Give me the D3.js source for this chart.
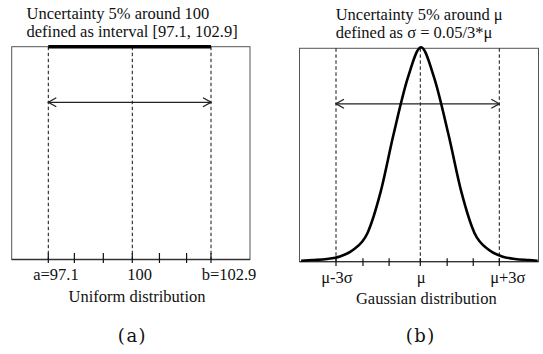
<!DOCTYPE html>
<html><head><meta charset="utf-8">
<script src="https://cdn.jsdelivr.net/npm/d3@7"></script>
<style>
body{margin:0;background:#fff}
text{font-family:"Liberation Serif","Times New Roman",serif;font-size:16.5px;fill:#111}
text.sub{font-family:"DejaVu Serif",serif;font-size:18px;letter-spacing:1.5px}
</style>
</head><body><svg id="c" width="543" height="354"></svg>
<script>
// ---------- data ----------
const uniformBounds = [97.1, 102.9];
const uniformCenter = 100;
const uniformTicks = [97.1, 98, 99, 100, 101, 102, 102.9];
const uniformLabelValues = [97.1, 100, 102.9];
const uniformTickLabels = ["a=97.1", "100", "b=102.9"];
const uniformTitle = ["Uncertainty 5% around 100", "defined as interval [97.1, 102.9]"];
const uniformXTitle = "Uniform distribution";

const gaussBounds = [95, 105];           // mu-3sigma, mu+3sigma
const gaussCenter = 100;
const gaussTicks = [95, 96.6, 98.15, 100, 101.7, 103.35, 105];
const gaussLabelValues = [95, 100, 105];
const gaussTickLabels = ["μ-3σ", "μ", "μ+3σ"];
const gaussTitle = ["Uncertainty 5% around μ", "defined as σ = 0.05/3*μ"];
const gaussXTitle = "Gaussian distribution";
// curve (relative density)
const gaussX = [92.6, 93.3, 94.2, 95, 95.8, 96.7, 97.5, 98.3, 99.2, 100, 100.8, 101.7, 102.5, 103.3, 104.2, 105, 105.8, 106.7, 107.2];
const gaussY = [0.0, 0.003, 0.008, 0.02, 0.05, 0.13, 0.32, 0.59, 0.86, 1, 0.86, 0.59, 0.32, 0.13, 0.05, 0.02, 0.008, 0.003, 0.0];

const subLabels = ["(a)", "(b)"];

// ---------- drawing ----------
const svg = d3.select("#c");
const defs = svg.append("defs");
defs.append("marker").attr("id","arr").attr("viewBox","-10 -6 11 12")
  .attr("refX",0).attr("refY",0).attr("markerWidth",11).attr("markerHeight",12)
  .attr("markerUnits","userSpaceOnUse").attr("orient","auto-start-reverse")
  .append("path").attr("d","M-8,-4.5L0,0L-8,4.5").attr("fill","none")
  .attr("stroke","#222").attr("stroke-width",1.3);

function panel(o){
  const g = svg.append("g");
  const x = d3.scaleLinear().domain(o.xDomain).range(o.xRange);
  const y = d3.scaleLinear().domain([0, o.yMax]).range([o.bottom, o.top]);
  // box
  g.append("rect").attr("x",o.left).attr("y",o.top).attr("width",o.right-o.left).attr("height",o.bottom-o.top)
    .attr("fill","none").attr("stroke","#555").attr("stroke-width",1);
  // dashed verticals
  g.selectAll("line.dash").data(o.dashValues).join("line")
    .attr("x1",d=>x(d)).attr("x2",d=>x(d)).attr("y1",o.top).attr("y2",o.bottom)
    .attr("stroke","#111").attr("stroke-width",1).attr("stroke-dasharray","3.5,2.5");
  // axis line
  g.append("line").attr("x1",o.left).attr("x2",o.right).attr("y1",o.bottom).attr("y2",o.bottom)
    .attr("stroke","#333").attr("stroke-width",1.3);
  // ticks
  g.selectAll("line.tick").data(o.ticks).join("line")
    .attr("x1",d=>x(d)).attr("x2",d=>x(d)).attr("y1",o.bottom-o.tickUp).attr("y2",o.bottom+o.tickDown)
    .attr("stroke","#111").attr("stroke-width",1.2);
  // tick labels
  g.selectAll("text.tl").data(o.labelValues).join("text")
    .attr("x",(d,i)=>x(d)+o.labelShift[i]).attr("y",o.labelY).attr("text-anchor","middle")
    .text((d,i)=>o.labels[i]);
  // arrow
  g.append("line").attr("x1",x(o.arrow[0])).attr("x2",x(o.arrow[1])).attr("y1",o.arrowY).attr("y2",o.arrowY)
    .attr("stroke","#222").attr("stroke-width",1.3)
    .attr("marker-start","url(#arr)").attr("marker-end","url(#arr)");
  // two-line title
  const t = g.append("text").attr("x",o.titleX).attr("y",o.titleY);
  t.selectAll("tspan").data(o.title).join("tspan")
    .attr("x",o.titleX).attr("dy",(d,i)=>i===0?0:o.titleGap).text(d=>d);
  g.append("text").attr("x",o.xTitleX).attr("y",o.xTitleY).attr("text-anchor","middle").text(o.xTitle);
  g.append("text").attr("class","sub").attr("x",o.subX).attr("y",o.subY).attr("text-anchor","middle").text(o.sub);
  return {g,x,y};
}

// (a) uniform
const pa = panel({
  left:11.7,right:250,top:46.7,bottom:259.5,
  xDomain:[uniformBounds[0],uniformCenter,uniformBounds[1]], xRange:[48.3,132.3,211],
  yMax:1/(uniformBounds[1]-uniformBounds[0]),
  dashValues:[uniformBounds[0],uniformCenter,uniformBounds[1]],
  ticks:uniformTicks, tickUp:6.5, tickDown:3.5,
  labelValues:uniformLabelValues, labels:uniformTickLabels, labelShift:[7.7,7.4,18], labelY:279.5,
  arrow:uniformBounds, arrowY:102.3,
  title:uniformTitle, titleX:26.5, titleY:19.3, titleGap:17.4,
  xTitle:uniformXTitle, xTitleX:137, xTitleY:302,
  sub:subLabels[0], subX:132.5, subY:341.5
});
pa.g.append("line")
  .attr("x1",pa.x(uniformBounds[0])).attr("x2",pa.x(uniformBounds[1]))
  .attr("y1",pa.y(1/(uniformBounds[1]-uniformBounds[0]))).attr("y2",pa.y(1/(uniformBounds[1]-uniformBounds[0])))
  .attr("stroke","#000").attr("stroke-width",3.6);

// (b) gaussian
const pb = panel({
  left:299.5,right:538.5,top:48.3,bottom:261.7,
  xDomain:[gaussBounds[0],gaussCenter,gaussBounds[1]], xRange:[336,420.3,499.3],
  yMax:1,
  dashValues:[gaussBounds[0],gaussCenter,gaussBounds[1]],
  ticks:gaussTicks, tickUp:3.5, tickDown:4.3,
  labelValues:gaussLabelValues, labels:gaussTickLabels, labelShift:[1,1,8.5], labelY:283.3,
  arrow:gaussBounds, arrowY:103.8,
  title:gaussTitle, titleX:335.7, titleY:19.8, titleGap:18.3,
  xTitle:gaussXTitle, xTitleX:426.3, xTitleY:304,
  sub:subLabels[1], subX:420.8, subY:342
});
const xCurve = d3.scaleLinear().domain(gaussBounds).range([340,502]);
pb.g.append("path")
  .datum(gaussX.map((v,i)=>[v,gaussY[i]]))
  .attr("d", d3.line().x(d=>xCurve(d[0])).y(d=>pb.y(d[1])-1).curve(d3.curveMonotoneX))
  .attr("fill","none").attr("stroke","#000").attr("stroke-width",2.6);
</script></body></html>
